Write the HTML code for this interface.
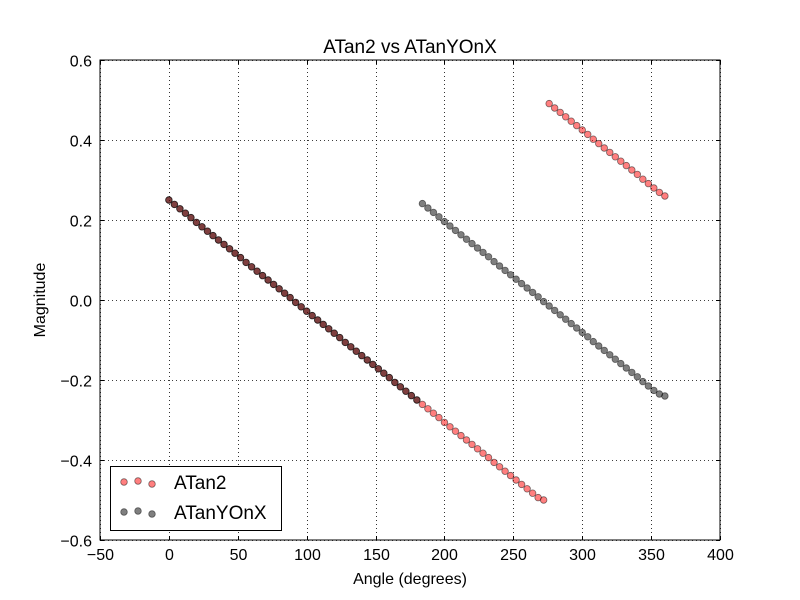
<!DOCTYPE html>
<html><head><meta charset="utf-8"><style>
body{margin:0;background:#fff;}
svg{display:block;font-family:"Liberation Sans","DejaVu Sans",sans-serif;}
</style></head><body>
<svg id="chart" width="800" height="600">
<rect x="0" y="0" width="800" height="600" fill="#fff"/>
<text x="410" y="53" font-size="19" text-anchor="middle">ATan2 vs ATanYOnX</text>
<g id="grid"></g>
<g id="ticks"></g>
<g id="marks"></g>
<rect x="100" y="60" width="620" height="480" fill="none" stroke="#000" stroke-width="1"/>
<text x="410" y="584" font-size="16" text-anchor="middle">Angle (degrees)</text>
<text x="45" y="300" font-size="16" text-anchor="middle" transform="rotate(-90 45 300)">Magnitude</text>
<g>
<rect x="110.5" y="466.5" width="171" height="64" fill="#fff" stroke="#000"/>
<g id="leg"></g>
<text x="174" y="489" font-size="19">ATan2</text>
<text x="174" y="519" font-size="19">ATanYOnX</text>
</g>
</svg>
<script>
const angles=[0,4,8,12,16,20,24,28,32,36,40,44,48,52,56,60,64,68,72,76,80,84,88,92,96,100,104,108,112,116,120,124,128,132,136,140,144,148,152,156,160,164,168,172,176,180,184,188,192,196,200,204,208,212,216,220,224,228,232,236,240,244,248,252,256,260,264,268,272,276,280,284,288,292,296,300,304,308,312,316,320,324,328,332,336,340,344,348,352,356,360];
const common=[.25,.239,.228,.217,.206,.194,.183,.172,.161,.15,.139,.128,.117,.106,.094,.083,.072,.061,.05,.039,.028,.017,.006,-.006,-.017,-.028,-.039,-.05,-.061,-.072,-.083,-.094,-.106,-.117,-.128,-.139,-.15,-.161,-.172,-.183,-.194,-.206,-.217,-.228,-.239,-.25];
const atan2Values=common.concat([-.261,-.272,-.283,-.294,-.306,-.317,-.328,-.339,-.35,-.361,-.372,-.383,-.394,-.406,-.417,-.428,-.439,-.45,-.461,-.472,-.483,-.494,-.5,.491,.48,.469,.458,.447,.436,.425,.414,.402,.391,.38,.369,.358,.347,.336,.325,.314,.302,.291,.28,.269,.26]);
const atanYOnXValues=common.concat([.241,.23,.219,.208,.196,.185,.174,.163,.152,.141,.13,.119,.108,.096,.085,.074,.063,.052,.041,.03,.019,.008,-.004,-.015,-.026,-.037,-.048,-.059,-.07,-.081,-.092,-.104,-.115,-.126,-.137,-.148,-.159,-.17,-.181,-.192,-.204,-.215,-.226,-.235,-.24]);
const xTicks=[-50,0,50,100,150,200,250,300,350,400];
const yTicks=[-0.6,-0.4,-0.2,0.0,0.2,0.4,0.6];
const yTickLabels=["\u22120.6","\u22120.4","\u22120.2","0.0","0.2","0.4","0.6"];
const X0=100,X1=720,Y0=540,Y1=60;
function sx(v){return X0+(v+50)/450*(X1-X0);}
function sy(v){return Y0-(v+0.6)/1.2*(Y0-Y1);}
const NS="http://www.w3.org/2000/svg";
function mk(tag,attrs,parent){const e=document.createElementNS(NS,tag);for(const k in attrs)e.setAttribute(k,attrs[k]);parent.appendChild(e);return e;}
const grid=document.getElementById('grid'),ticks=document.getElementById('ticks'),marks=document.getElementById('marks');
xTicks.forEach((t,i)=>{const x=Math.round(sx(t))+0.5;
 const g=mk('line',{x1:x,x2:x,y1:Y1,y2:Y0,stroke:'#000','stroke-dasharray':'1,3','stroke-width':0.8},grid);
 
 
 mk('line',{x1:x,x2:x,y1:Y0,y2:Y0-4,stroke:'#000'},ticks);
 mk('line',{x1:x,x2:x,y1:Y1,y2:Y1+4,stroke:'#000'},ticks);
 const tx=mk('text',{x:x,y:Y0+20,'font-size':16,'text-anchor':'middle'},ticks);
 tx.textContent=t<0?'\u2212'+(-t):String(t);
 
 
});
yTicks.forEach((t,i)=>{const y=Math.round(sy(t))+0.5;
 const g=mk('line',{x1:X0,x2:X1,y1:y,y2:y,stroke:'#000','stroke-dasharray':'1,3','stroke-width':0.8},grid);
 
 
 mk('line',{x1:X0,x2:X0+4,y1:y,y2:y,stroke:'#000'},ticks);
 mk('line',{x1:X1,x2:X1-4,y1:y,y2:y,stroke:'#000'},ticks);
 const tx=mk('text',{x:X0-8,y:y+6,'font-size':16,'text-anchor':'end'},ticks);
 tx.textContent=yTickLabels[i];
 
 
});
function series(vals,fill,name){
 const g=mk('g',{},marks);
 
 
 vals.forEach((v,i)=>{const c=mk('circle',{cx:sx(angles[i]),cy:sy(v),r:3.3,fill:fill,'fill-opacity':0.5,stroke:'#000','stroke-opacity':0.5,'stroke-width':0.8},g);
  
  });
}
series(atan2Values,'#ff0000','atan2-series');
series(atanYOnXValues,'#000000','atanyonx-series');
const leg=document.getElementById('leg');
[[482,'#ff0000','legend-marker-atan2'],[512,'#000000','legend-marker-atanyonx']].forEach(r=>{
 [124,138,152].forEach((x,j)=>{const c=mk('circle',{cx:x,cy:r[0]+(j==1?-1:(j==2?2:0)),r:3.3,fill:r[1],'fill-opacity':0.5,stroke:'#000','stroke-opacity':0.5,'stroke-width':0.8},leg);
 
 });
});
</script>
</body></html>
